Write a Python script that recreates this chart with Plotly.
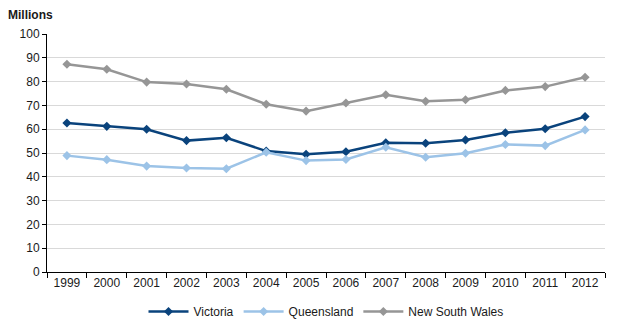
import plotly.graph_objects as go

years = [str(y) for y in range(1999, 2013)]
victoria = [62.6, 61.2, 60.0, 55.2, 56.4, 50.8, 49.5, 50.5, 54.3, 54.1, 55.5, 58.5, 60.2, 65.3]
queensland = [48.9, 47.2, 44.5, 43.7, 43.4, 50.3, 46.8, 47.3, 52.4, 48.2, 49.9, 53.6, 53.1, 59.7]
nsw = [87.3, 85.2, 79.8, 79.0, 76.8, 70.5, 67.6, 71.0, 74.5, 71.7, 72.4, 76.3, 77.9, 81.8]

series = [
    ("Victoria", victoria, "#0a437c"),
    ("Queensland", queensland, "#9cc3e7"),
    ("New South Wales", nsw, "#969696"),
]

fig = go.Figure()
for name, vals, color in series:
    fig.add_trace(go.Scatter(
        x=years, y=vals, name=name, mode="lines+markers",
        line=dict(color=color, width=2.5),
        marker=dict(symbol="diamond", size=7, color=color),
    ))

font_family = "Liberation Sans, Arial, sans-serif"
fig.update_layout(
    width=631, height=322,
    margin=dict(l=47, r=26, t=34, b=50, autoexpand=False),
    paper_bgcolor="white", plot_bgcolor="white",
    font=dict(family=font_family, size=12, color="#1a1a1a"),
    showlegend=True,
    legend=dict(orientation="h", x=0.5, xanchor="center", y=-0.105, yanchor="top",
                font=dict(size=12), itemwidth=40, traceorder="normal"),
    xaxis=dict(type="category", range=[-0.5, 13.5], tickson="boundaries",
               ticks="outside", ticklen=5, tickcolor="black",
               showline=True, linecolor="black", linewidth=1,
               showgrid=False, fixedrange=True),
    yaxis=dict(range=[0, 100], dtick=10, ticks="outside", ticklen=4,
               tickcolor="black", showline=True, linecolor="black", linewidth=1,
               gridcolor="#d9d9d9", gridwidth=1, zeroline=False, fixedrange=True),
    annotations=[dict(text="<b>Millions</b>", xref="paper", yref="paper",
                      x=-0.073, y=1.04, xanchor="left", yanchor="bottom",
                      showarrow=False, font=dict(size=12, family=font_family))],
)

fig.write_html("out.html")
